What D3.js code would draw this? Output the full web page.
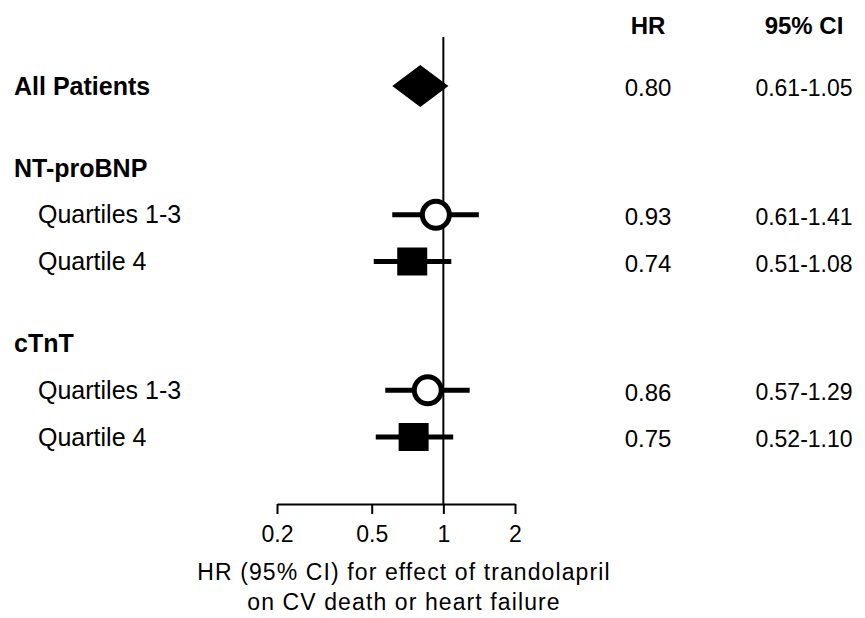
<!DOCTYPE html>
<html>
<head>
<meta charset="utf-8">
<script src="https://cdn.jsdelivr.net/npm/d3@7"></script>
<style>
  body { margin: 0; background: #fff; }
  svg { font-family: Arial, "Liberation Sans", sans-serif; }
</style>
</head>
<body>
<svg id="forest" width="865" height="618"></svg>
<script>
// rows of the forest plot
var labels = ["All Patients", "NT-proBNP", "Quartiles 1-3", "Quartile 4", "cTnT", "Quartiles 1-3", "Quartile 4"];
var rowType = ["overall", "header", "sub", "sub", "header", "sub", "sub"];
var marker = ["diamond", null, "circle", "square", null, "circle", "square"];
var hr = [0.80, null, 0.93, 0.74, null, 0.86, 0.75];
var ciLow = [0.61, null, 0.61, 0.51, null, 0.57, 0.52];
var ciHigh = [1.05, null, 1.41, 1.08, null, 1.29, 1.10];
var tickVals = [0.2, 0.5, 1, 2];
var tickLabels = ["0.2", "0.5", "1", "2"];
var colHeaders = ["HR", "95% CI"];
var axisTitle = ["HR (95% CI) for effect of trandolapril", "on CV death or heart failure"];

function drawForest() {
    let svg = d3.select("#forest");

    // header rows get an extra gap above them
    let slots = [], s = 0;
    for (let i = 0; i < labels.length; i++) {
        if (i > 0) s += (rowType[i] === "header") ? 1.75 : 1;
        slots.push(s);
    }

    let x = d3.scaleLog().domain([0.2, 2]).range([277, 515]);
    let y = d3.scaleLinear().domain([0, d3.max(slots)]).range([86, 437]);
    let axisY = 504;

    let rows = labels.map((d, i) => ({
        label: d, type: rowType[i], marker: marker[i],
        hr: hr[i], lo: ciLow[i], hi: ciHigh[i], slot: slots[i]
    }));

    // reference line at HR = 1
    svg.append("line")
        .attr("x1", x(1)).attr("x2", x(1))
        .attr("y1", 37).attr("y2", axisY)
        .style("stroke", "#000")
        .style("stroke-width", 2);

    // x axis
    let xAxis = d3.axisBottom(x)
        .tickValues(tickVals)
        .tickFormat((d, i) => tickLabels[i])
        .tickSize(10)
        .tickSizeOuter(0)
        .tickPadding(12);

    let gx = svg.append("g")
        .attr("transform", "translate(0," + axisY + ")")
        .call(xAxis);
    gx.select(".domain").style("stroke-width", 2);
    gx.selectAll(".tick line").style("stroke-width", 2);
    gx.selectAll(".tick text")
        .style("font-size", "23px")
        .style("font-family", "Arial, 'Liberation Sans', sans-serif");

    svg.selectAll(".axis-title")
        .data(axisTitle)
        .enter().append("text")
        .attr("class", "axis-title")
        .attr("x", 404)
        .attr("y", (d, i) => 580 + i * 30)
        .attr("text-anchor", "middle")
        .style("font-size", "23px")
        .style("letter-spacing", "1.1px")
        .text(d => d);

    // row labels
    svg.selectAll(".row-label")
        .data(rows)
        .enter().append("text")
        .attr("class", "row-label")
        .attr("x", d => d.type === "sub" ? 38 : 14)
        .attr("y", d => y(d.slot))
        .attr("dy", "0.35em")
        .style("font-size", "25px")
        .style("font-weight", d => d.type === "sub" ? "normal" : "bold")
        .text(d => d.label);

    let est = rows.filter(d => d.hr !== null);

    // CI whiskers
    svg.selectAll(".ci")
        .data(est.filter(d => d.marker !== "diamond"))
        .enter().append("line")
        .attr("class", "ci")
        .attr("x1", d => x(d.lo)).attr("x2", d => x(d.hi))
        .attr("y1", d => y(d.slot)).attr("y2", d => y(d.slot))
        .style("stroke", "#000")
        .style("stroke-width", 5);

    // overall diamond spans the CI
    svg.selectAll(".diamond")
        .data(est.filter(d => d.marker === "diamond"))
        .enter().append("path")
        .attr("class", "diamond")
        .attr("d", d => {
            let cy = y(d.slot), h = 21;
            return "M" + x(d.lo) + "," + cy + "L" + x(d.hr) + "," + (cy - h) +
                "L" + x(d.hi) + "," + cy + "L" + x(d.hr) + "," + (cy + h) + "Z";
        })
        .style("fill", "#000");

    svg.selectAll(".sq")
        .data(est.filter(d => d.marker === "square"))
        .enter().append("rect")
        .attr("class", "sq")
        .attr("x", d => x(d.hr) - 15)
        .attr("y", d => y(d.slot) - 14)
        .attr("width", 30)
        .attr("height", 28)
        .style("fill", "#000");

    svg.selectAll(".circ")
        .data(est.filter(d => d.marker === "circle"))
        .enter().append("circle")
        .attr("class", "circ")
        .attr("cx", d => x(d.hr))
        .attr("cy", d => y(d.slot))
        .attr("r", 13.5)
        .style("fill", "#fff")
        .style("stroke", "#000")
        .style("stroke-width", 5);

    // table columns
    let colX = [648, 804];
    svg.selectAll(".col-head")
        .data(colHeaders)
        .enter().append("text")
        .attr("class", "col-head")
        .attr("x", (d, i) => colX[i])
        .attr("y", 34)
        .attr("text-anchor", "middle")
        .style("font-size", "24px")
        .style("font-weight", "bold")
        .text(d => d);

    svg.selectAll(".hr-val")
        .data(est)
        .enter().append("text")
        .attr("class", "hr-val")
        .attr("x", colX[0])
        .attr("y", d => y(d.slot) + 2)
        .attr("dy", "0.35em")
        .attr("text-anchor", "middle")
        .style("font-size", "24px")
        .text(d => d3.format(".2f")(d.hr));

    svg.selectAll(".ci-val")
        .data(est)
        .enter().append("text")
        .attr("class", "ci-val")
        .attr("x", colX[1])
        .attr("y", d => y(d.slot) + 2)
        .attr("dy", "0.35em")
        .attr("text-anchor", "middle")
        .style("font-size", "23px")
        .text(d => d3.format(".2f")(d.lo) + "-" + d3.format(".2f")(d.hi));
}

drawForest();
</script>
</body>
</html>
